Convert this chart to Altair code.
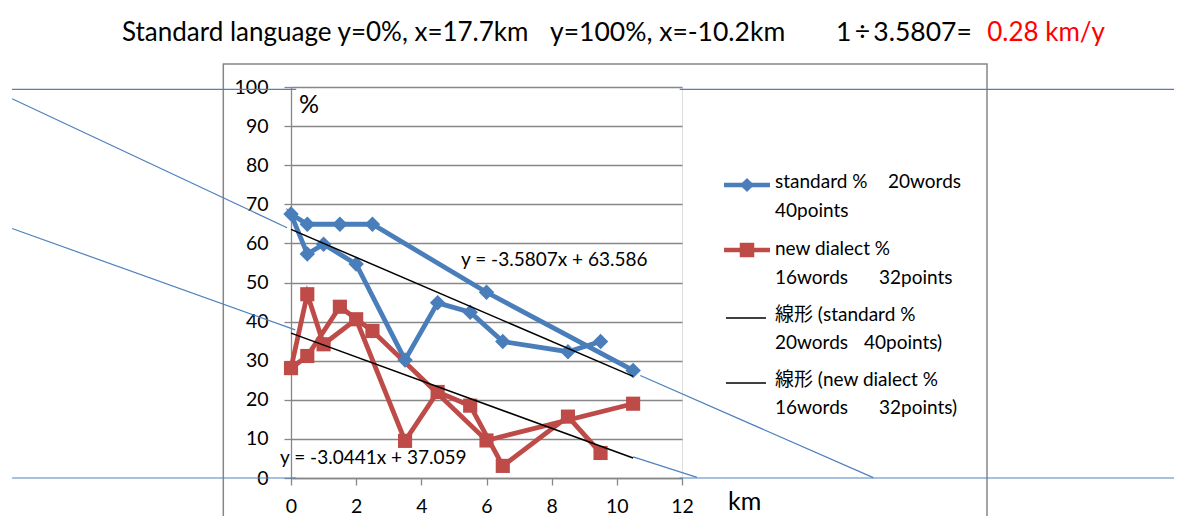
import altair as alt
import pandas as pd

# ---------------- data ----------------
km_sites = [9.5, 8.5, 6.5, 5.5, 4.5, 3.5, 2, 1, 0.5, 0, 0.5, 1.5, 2.5, 6, 10.5]
standard_pct = [34.9, 32.3, 34.9, 42.4, 44.8, 30.2, 54.7, 59.8, 57.3, 67.5, 64.9, 64.9, 64.9, 47.5, 27.5]
new_dialect_pct = [6.4, 15.7, 3.1, 18.5, 22.0, 9.5, 40.6, 34.2, 47.0, 28.1, 31.2, 43.8, 37.6, 9.6, 19.0]

series_names = ["standard", "new dialect"]
series_colors = ["#4A7EBB", "#BE4B48"]
series_shapes = ["diamond", "square"]

# linear trend lines (end points from the printed equations)
trend_km = [0, 10.5]
standard_trend = [63.59, 25.99]
new_dialect_trend = [37.06, 5.10]
trend_labels = ["y = -3.5807x + 63.586", "y = -3.0441x + 37.059"]

# hand-drawn blue guide lines (data units: km, %)
guide_seg = ["h100a", "h100a", "h100b", "h100b", "h0a", "h0a", "h0b", "h0b",
             "s1a", "s1a", "s1b", "s1b", "s2a", "s2a", "s2b", "s2b"]
guide_km = [-8.56, 0.16, 11.93, 27.5, -8.56, 0.16, 11.93, 27.5,
            -8.56, -0.12, 10.72, 17.87, -8.56, 0.13, 10.50, 12.46]
guide_pct = [99.4, 99.4, 99.4, 99.4, 0, 0, 0, 0,
             97.0, 64.0, 26.2, 0.1, 63.8, 37.9, 5.4, 0.15]

x_ticks = [0, 2, 4, 6, 8, 10, 12]
y_ticks = [0, 10, 20, 30, 40, 50, 60, 70, 80, 90, 100]

title_parts = ["Standard language y=0%, x=17.7km", "y=100%, x=-10.2km", "1\u2009\u00f7\u20093.5807="]
title_red = "0.28 km/y"

legend_rows = [
    ["standard %", "20words"],
    ["40points"],
    ["new dialect %"],
    ["16words", "32points"],
    ["線形 (standard %"],
    ["20words", "40points)"],
    ["線形 (new dialect %"],
    ["16words", "32points)"],
]

# ---------------- layout ----------------
W, H = 391, 391
PAD = {"left": 283, "top": 79, "right": 1166 - 283 - W, "bottom": 508 - 79 - H}
FONT = "Lato, 'Noto Sans CJK JP', sans-serif"
GRAY = "#878787"
GUIDE = "#4F81BD"

xs = alt.Scale(domain=[0, 12], nice=False, zero=False)
ys = alt.Scale(domain=[0, 100], nice=False, zero=False)

x_axis = alt.Axis(values=x_ticks, grid=False, title=None, tickSize=7, tickColor=GRAY, tickWidth=1.3,
                  domainColor=GRAY, domainWidth=1.3, labelFont=FONT, labelFontSize=19.5,
                  labelColor="black", labelPadding=12, labelFlush=False)
y_axis = alt.Axis(values=y_ticks, grid=True, gridColor=GRAY, gridWidth=1.3, gridOpacity=1, title=None,
                  tickSize=7, tickColor=GRAY, tickWidth=1.3, domainColor=GRAY, domainWidth=1.3,
                  labelFont=FONT, labelFontSize=19.5, labelColor="black", labelPadding=16, labelFlush=False)

X = alt.X("km:Q", scale=xs, axis=x_axis)
Y = alt.Y("pct:Q", scale=ys, axis=y_axis)

n = len(km_sites)
df = pd.DataFrame({
    "km": km_sites + km_sites,
    "pct": standard_pct + new_dialect_pct,
    "series": [series_names[0]] * n + [series_names[1]] * n,
    "ord": list(range(n)) * 2,
})
df_trend = pd.DataFrame({
    "km": trend_km + trend_km,
    "pct": standard_trend + new_dialect_trend,
    "series": [series_names[0]] * 2 + [series_names[1]] * 2,
})
df_guide = pd.DataFrame({"km": guide_km, "pct": guide_pct, "seg": guide_seg})

color = alt.Color("series:N", scale=alt.Scale(domain=series_names, range=series_colors), legend=None)

one = pd.DataFrame({"a": [0]})

frame = alt.Chart(one).mark_rect(fill="transparent", stroke=GRAY, strokeWidth=1.5).encode(
    x=alt.value(-67.7), x2=alt.value(696), y=alt.value(-23), y2=alt.value(480)
)

guides = alt.Chart(df_guide).mark_line(color=GUIDE, strokeWidth=1.2).encode(
    x=X, y=Y, detail="seg:N",
)

lines = alt.Chart(df).mark_line(strokeWidth=4.8).encode(
    x=X, y=Y, color=color, order="ord:Q",
)

pts_std = alt.Chart(df).transform_filter(alt.datum.series == series_names[0]).mark_point(
    shape=series_shapes[0], filled=True, size=240, opacity=1, color=series_colors[0]).encode(x=X, y=Y)
pts_new = alt.Chart(df).transform_filter(alt.datum.series == series_names[1]).mark_point(
    shape=series_shapes[1], filled=True, size=200, opacity=1, color=series_colors[1]).encode(x=X, y=Y)

trends = alt.Chart(df_trend).mark_line(color="black", strokeWidth=1.5).encode(
    x=X, y=Y, detail="series:N",
)


def txt(s, x, y, size, col="black", align="left", font=FONT):
    return alt.Chart(pd.DataFrame({"t": [s]})).mark_text(
        font=font, fontSize=size, color=col, align=align, baseline="middle"
    ).encode(x=alt.value(x), y=alt.value(y), text="t:N")


def rule(x1, x2, y, col, w):
    return alt.Chart(one).mark_rule(color=col, strokeWidth=w).encode(
        x=alt.value(x1), x2=alt.value(x2), y=alt.value(y))


def sym(x, y, shape, col, size):
    return alt.Chart(one).mark_point(shape=shape, filled=True, size=size, opacity=1, color=col).encode(
        x=alt.value(x), y=alt.value(y))


TY = 33 - 87
texts = [
    txt(title_parts[0], 122 - 291, TY, 26),
    txt(title_parts[1], 550 - 291, TY, 26.5),
    txt(title_parts[2], 836 - 291, TY, 26.5),
    txt(title_red, 1105 - 291, TY, 26, col="#FF0000", align="right"),
    txt("%", 8, 17.5, 25),
    txt("km", 437, 415, 25),
    txt(trend_labels[0], 170, 173, 19),
    txt(trend_labels[1], -11, 371, 19),
]

row_y = [95, 124, 162, 191, 228, 256, 293, 321]
second_x = [597, None, None, 588, None, 573, None, 588]
for i, row in enumerate(legend_rows):
    texts.append(txt(row[0], 484, row_y[i], 19))
    if len(row) > 1:
        texts.append(txt(row[1], second_x[i], row_y[i], 19))

legend_syms = [
    rule(433, 479, 98, series_colors[0], 4.5),
    sym(456, 98, "diamond", series_colors[0], 200),
    rule(433, 479, 163, series_colors[1], 4.5),
    sym(456, 163, "square", series_colors[1], 210),
    rule(435, 475, 231, "black", 1.5),
    rule(435, 475, 296, "black", 1.5),
]

chart = alt.layer(
    frame, guides, lines, pts_std, pts_new, trends, *legend_syms, *texts
).properties(
    width=W, height=H, padding=PAD, autosize=alt.AutoSizeParams(type="none")
).configure_view(strokeWidth=0).configure(background="white")

chart.save("out.html", embed_options={"renderer": "svg", "actions": False})
